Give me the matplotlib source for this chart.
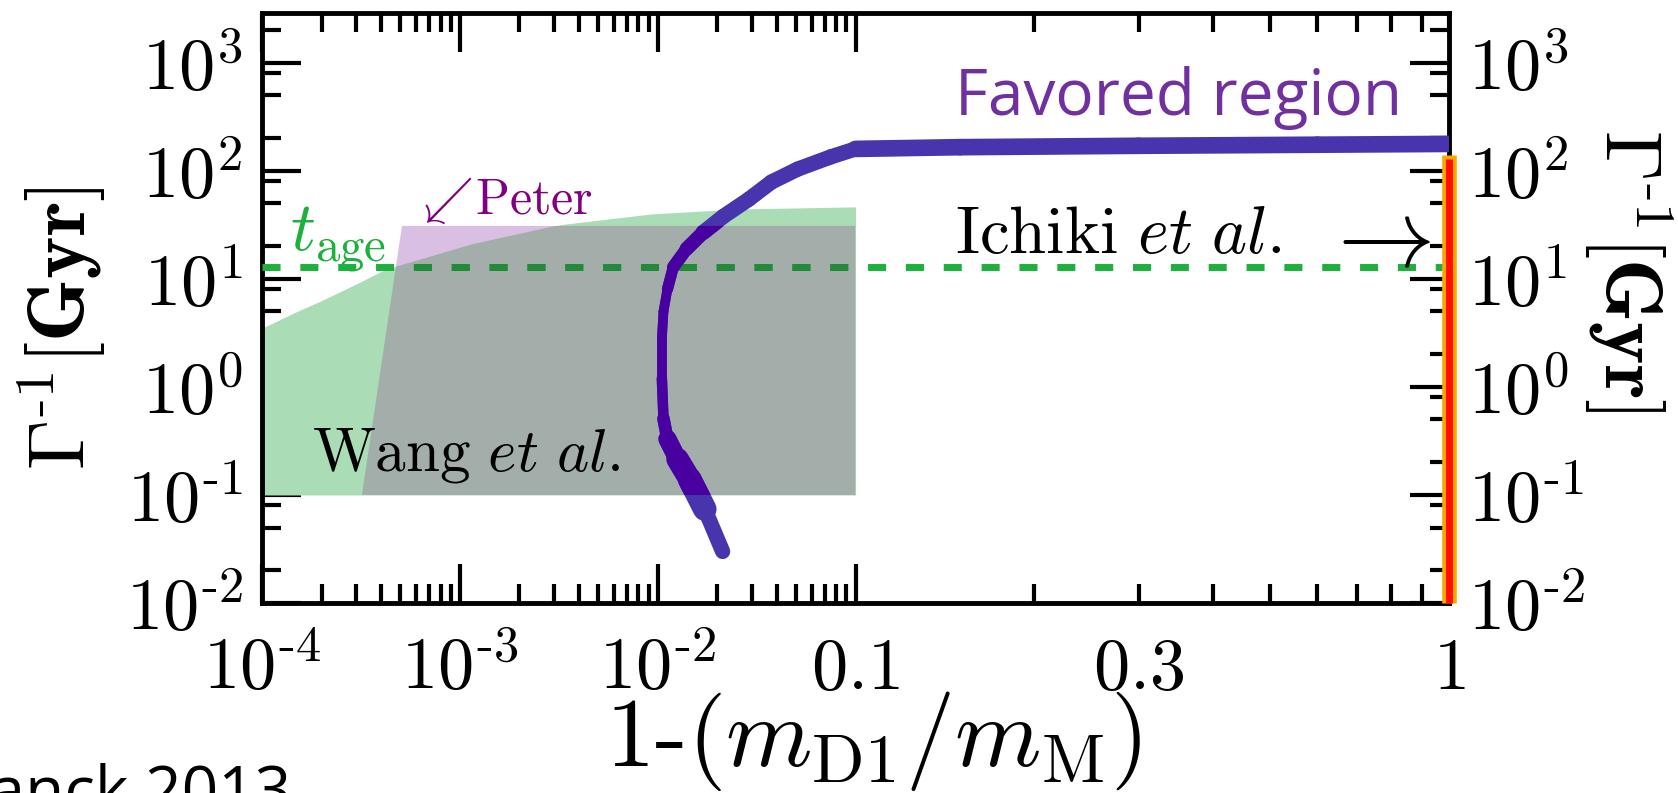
import numpy as np
import matplotlib
matplotlib.use("Agg")
import matplotlib.pyplot as plt
from matplotlib.collections import LineCollection
from matplotlib.ticker import FixedLocator, FuncFormatter, LogLocator, NullFormatter

plt.rcParams['mathtext.fontset'] = 'cm'

# ---- data ----
# Wang et al. excluded band (upper edge), lower edge at 0.1 Gyr
wang_x = [1e-4, 1.5e-4, 2e-4, 3e-4, 4.1e-4, 1.16e-3, 3.3e-3, 9.3e-3, 2.6e-2, 0.1]
wang_top = [3.5, 5.0, 6.3, 9.0, 12.0, 21.0, 32.0, 40.0, 44.5, 46.5]
wang_lo = 0.1

# Peter constraint polygon
peter_x = [3.2e-4, 5.1e-4, 0.1, 0.1]
peter_y = [0.1, 31.0, 31.0, 0.1]

# age of the universe
t_age = 13.0

# favored region curve
fav_x = [0.0213, 0.0173, 0.0145, 0.0126, 0.0112, 0.0107, 0.0105, 0.0105, 0.0107,
         0.0112, 0.0120, 0.0140, 0.0170, 0.0215, 0.0290, 0.0376, 0.051, 0.075,
         0.1, 0.15, 0.3, 0.6, 1.0]
fav_y = [0.030, 0.074, 0.14, 0.215, 0.33, 0.51, 1.2, 2.8, 5.0,
         8.0, 12.9, 19.0, 27.0, 38.0, 55.0, 79.0, 104.0, 135.0,
         160.0, 166.0, 171.0, 175.0, 178.0]
# band thickness along the curve (points)
fav_lw = [11, 17, 16, 13, 9, 7.5, 7, 7, 7, 8, 9, 10, 11, 11, 11, 11, 11, 11,
          12, 12, 12, 12]

# Ichiki et al. bound at x = 1
ichiki_x = 1.0
ichiki_y = [1e-2, 130.0]

xmajor = [1e-4, 1e-3, 1e-2, 0.1]
xminor = [k * 10.0**e for e in (-4, -3, -2) for k in range(2, 10)] + \
         [k / 10 for k in range(2, 10)] + [1.0]
xlabels = {1e-4: r'$10^{\text{-}4}$', 1e-3: r'$10^{\text{-}3}$',
           1e-2: r'$10^{\text{-}2}$', 0.1: r'$0.1$', 0.3: r'$0.3$', 1.0: r'$1$'}

green = '#aadcb5'
lavender = '#d9c0e2'
overlap = '#a3aeaa'
dash_green = '#1cb03c'
dash_dark = '#238a3a'
fav_blue = '#4834ac'
fav_dark = '#4800a0'


# log axis whose last decade (0.1 - 1) is stretched 3x
def fwd(x):
    x = np.asarray(x, dtype=float)
    with np.errstate(divide='ignore', invalid='ignore'):
        lx = np.log10(x)
    return np.where(lx <= -1, lx, -1 + 3 * (lx + 1))


def inv(u):
    u = np.asarray(u, dtype=float)
    return np.where(u <= -1, 10.0**u, 10.0**(-1 + (u + 1) / 3))


fig = plt.figure(figsize=(16.78, 7.93), dpi=100)
ax = fig.add_axes([262 / 1678, 1 - 603 / 793, (1449 - 262) / 1678, (603 - 13) / 793])
ax.set_xscale('function', functions=(fwd, inv))
ax.set_yscale('log')
ax.set_xlim(1e-4, 1.0)
ax.set_ylim(1e-2, 2.9e3)

# regions
peter = ax.fill(peter_x, peter_y, color=lavender, lw=0, zorder=1)[0]
wang = ax.fill_between(wang_x, wang_lo, wang_top, color=green, lw=0, zorder=2)
both = ax.fill(peter_x, peter_y, color=overlap, lw=0, zorder=3)[0]
both.set_clip_path(wang.get_paths()[0], ax.transData)

# t_age line
ax.plot([1e-4, 1.0], [t_age, t_age], color=dash_green, lw=5, dashes=(2.6, 2.85), zorder=4)
dd, = ax.plot([1e-4, 1.0], [t_age, t_age], color=dash_dark, lw=5, dashes=(2.6, 2.85), zorder=6)
dd.set_clip_path(peter)

# favored region band
pts = np.column_stack([fav_x, fav_y])
segs = [pts[i:i + 2] for i in range(len(pts) - 1)]
lc = LineCollection(segs, linewidths=fav_lw, colors=fav_blue, capstyle='round',
                    joinstyle='round', zorder=5)
ax.add_collection(lc)
lc2 = LineCollection(segs, linewidths=fav_lw, colors=fav_dark, capstyle='round',
                     joinstyle='round', zorder=7)
ax.add_collection(lc2)
lc2.set_clip_path(peter)

# Ichiki et al. bar on the right edge
ax.plot([ichiki_x, ichiki_x], [ichiki_y[0], ichiki_y[1] * 1.08], color='#ffa500', lw=10.5,
        solid_capstyle='butt', clip_on=False, zorder=10)
ax.plot([ichiki_x, ichiki_x], ichiki_y, color='#ff1000', lw=5,
        solid_capstyle='butt', clip_on=False, zorder=11)

# ticks
ax.xaxis.set_major_locator(FixedLocator(xmajor))
ax.xaxis.set_minor_locator(FixedLocator(xminor))
ax.xaxis.set_major_formatter(FuncFormatter(lambda v, p: xlabels.get(round(v, 6), '')))
ax.xaxis.set_minor_formatter(FuncFormatter(
    lambda v, p: xlabels[round(v, 6)] if round(v, 6) in (0.3, 1.0) else ''))
ax.yaxis.set_major_locator(LogLocator(base=10, numticks=20))
ax.yaxis.set_minor_locator(LogLocator(base=10, subs=(2, 5, 8), numticks=20))
ax.yaxis.set_minor_formatter(NullFormatter())
ax.yaxis.set_major_formatter(FuncFormatter(
    lambda v, p: r'$10^{%s}$' % (r'\text{-}%d' % -round(np.log10(v)) if v < 1
                                 else '%d' % round(np.log10(v)))))

ax.tick_params(which='both', direction='in', top=True, right=True, labelright=True,
               width=3, colors='black')
ax.tick_params(which='major', length=28)
ax.tick_params(which='minor', length=13.5)
ax.tick_params(axis='y', which='both', labelsize=52, pad=14)
ax.tick_params(axis='x', which='both', labelsize=52, pad=62)
for lab in ax.get_xticklabels(which='both'):
    lab.set_verticalalignment('baseline')
for s in ax.spines.values():
    s.set_linewidth(3.5)

# axis labels
fig.text(873 / 1678, 1 - 741 / 793, r'$1\text{-}(m_{\mathrm{D1}}/m_{\mathrm{M}})$',
         fontsize=71, ha='center', va='center')
fig.text(62 / 1678, 1 - 328 / 793, r'$\Gamma^{\text{-}1}[\mathbf{Gyr}]$',
         fontsize=58, rotation=90, ha='center', va='center')
fig.text(1628 / 1678, 1 - 271 / 793, r'$\Gamma^{\text{-}1}[\mathbf{Gyr}]$',
         fontsize=58, rotation=-90, ha='center', va='center')

# annotations
ax.text(0.147, 330, 'Favored region', fontsize=46, family='Open Sans', color='#7030a0',
        ha='left', va='baseline', zorder=12)
ax.text(0.147, 17.4, r'$\mathrm{Ichiki}\ \mathit{et\ al.}$', fontsize=48,
        ha='left', va='baseline', zorder=12)
ax.text(0.93, 13.2, r'$\rightarrow$', fontsize=70, ha='right', va='baseline', zorder=12)
ax.text(1.79e-4, 0.17, r'$\mathrm{Wang}\ \mathit{et\ al.}$', fontsize=44,
        ha='left', va='baseline', zorder=12)
ax.text(1.39e-4, 17.8, r'$t_{\mathrm{age}}$', fontsize=50, color=dash_green,
        ha='left', va='baseline', zorder=12)
ax.text(5.9e-4, 40.8, r'$\swarrow$', fontsize=36, color='#800080',
        ha='left', va='baseline', zorder=12)
ax.text(1.2e-3, 40.8, r'$\mathrm{Peter}$', fontsize=36, color='#800080',
        ha='left', va='baseline', zorder=12)

fig.text(291 / 1678, (793 - 811) / 793, 'Planck 2013', fontsize=46, family='Open Sans',
         ha='right', va='baseline')

fig.savefig('out.png', dpi=100)
